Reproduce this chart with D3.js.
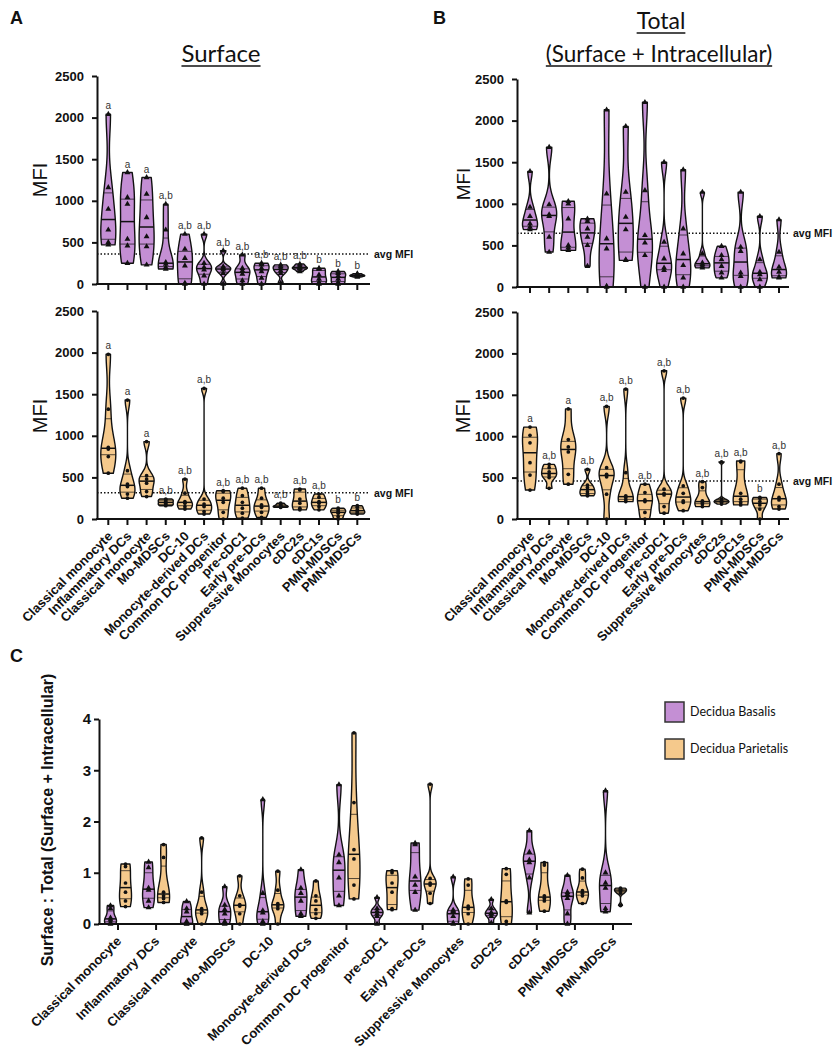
<!DOCTYPE html>
<html><head><meta charset="utf-8">
<script src="https://cdn.jsdelivr.net/npm/d3@7"></script>
<style>body{margin:0;background:#fff} svg{display:block}</style>
</head><body>
<svg id="chart" width="835" height="1050"></svg>
<script>
const categories = ["Classical monocyte","Inflammatory DCs","Classical monocyte","Mo-MDSCs","DC-10","Monocyte-derived DCs","Common DC progenitor","pre-cDC1","Early pre-DCs","Suppressive Monocytes","cDC2s","cDC1s","PMN-MDSCs","PMN-MDSCs"];
const seriesNames = ["Decidua Basalis","Decidua Parietalis"];
const mfiTicks = [0,500,1000,1500,2000,2500];
const ratioTicks = [0,1,2,3,4];

const surfaceBasalis = [
 [2040,1160,900,650,500,470],[1340,1040,960,540,460,250],[1280,1080,800,570,450,230],[960,650,260,240,200,180],
 [600,420,310,220,10,0],[600,250,200,170,100,0],[400,210,190,170,130,0],[350,190,160,120,40,0],
 [250,230,190,150,70,0],[230,210,190,160,130,10],[240,220,200,190,180,150],[190,180,110,60,20,0],
 [150,130,100,60,20,0],[125,115,105,100,95,85]];
const surfaceParietalis = [
 [1980,1320,860,840,750,550],[1430,580,420,390,300,250],[930,520,480,430,330,270],[240,230,210,190,170,160],
 [480,310,210,190,150,120],[1570,240,180,150,90,60],[340,330,250,200,80,0],[370,280,200,130,70,10],
 [370,250,170,140,80,20],[190,175,160,150,145,140],[360,350,240,190,130,110],[300,260,210,190,150,110],
 [130,110,90,70,30,0],[160,140,110,90,70,60]];
const totalBasalis = [
 [1390,960,850,760,720,690],[1680,990,870,850,600,420],[1030,1000,820,500,470,440],[820,790,700,600,500,250],
 [2130,1120,580,460,10,0],[1930,1140,840,690,330,320],[2220,1160,620,530,380,0],[1500,540,340,230,200,0],
 [1410,700,400,260,110,0],[1140,400,290,270,250,230],[490,380,330,250,170,110],[1140,480,430,170,130,0],
 [850,330,180,150,90,0],[810,420,240,180,120,110]];
const totalParietalis = [
 [1110,1010,920,680,530,350],[660,620,570,530,500,370],[1330,960,870,810,540,420],[600,410,380,330,300,280],
 [1360,620,540,510,300,0],[1570,560,280,260,230,210],[420,320,230,210,80,0],[1790,360,310,290,150,70],
 [1460,400,310,220,200,100],[450,380,220,200,180,150],[690,240,220,210,200,180],[700,690,310,240,200,170],
 [260,250,210,170,120,0],[790,420,260,230,150,120]];
const ratioBasalis = [
 [0.36,0.30,0.12,0.08,0.03,0.0],[1.21,1.10,0.70,0.66,0.45,0.32],[0.44,0.30,0.24,0.05,0.01,0.0],[0.73,0.37,0.28,0.20,0.05,0.0],
 [2.43,0.60,0.26,0.22,0.05,0.0],[1.06,0.70,0.60,0.45,0.20,0.15],[2.72,1.35,1.20,0.90,0.55,0.36],[0.52,0.30,0.25,0.20,0.15,0.0],
 [1.58,1.55,0.92,0.76,0.62,0.27],[0.92,0.27,0.25,0.15,0.02,0.0],[0.48,0.30,0.22,0.20,0.15,0.02],[1.82,1.40,1.25,1.20,0.90,0.22],
 [0.95,0.62,0.58,0.50,0.20,0.0],[2.60,1.00,0.80,0.70,0.30,0.24]];
const ratioParietalis = [
 [1.17,1.12,0.80,0.62,0.45,0.34],[1.55,1.30,0.62,0.55,0.50,0.42],[1.68,0.62,0.30,0.25,0.20,0.0],[0.94,0.55,0.38,0.35,0.20,0.0],
 [1.03,0.66,0.40,0.35,0.30,0.0],[0.84,0.55,0.45,0.28,0.20,0.11],[3.73,2.37,1.45,1.27,0.76,0.49],[1.04,1.00,0.80,0.62,0.30,0.28],
 [2.73,0.89,0.80,0.76,0.60,0.40],[0.88,0.76,0.35,0.30,0.20,0.0],[1.08,0.97,0.45,0.42,0.05,0.0],[1.20,1.15,0.55,0.50,0.45,0.25],
 [1.07,0.90,0.65,0.60,0.55,0.40],[0.70,0.68,0.66,0.63,0.60,0.36]];

const lettersSurfaceBasalis = ["a","a","a","a,b","a,b","a,b","a,b","a,b","a,b","a,b","a,b","b","b","b"];
const lettersSurfaceParietalis = ["a","a","a","a,b","a,b","a,b","a,b","a,b","a,b","a,b","a,b","a,b","b","b"];
const lettersTotalParietalis = ["a","a,b","a","a,b","a,b","a,b","a,b","a,b","a,b","a,b","a,b","a,b","b","a,b"];
const avgSurfaceBasalis = 360, avgSurfaceParietalis = 316, avgTotalBasalis = 645, avgTotalParietalis = 458;

const PURPLE = "#c48fd4", ORANGE = "#f5c98c", INK = "#111";
const svg = d3.select("#chart");
const AXF = "'Liberation Sans', Arial, sans-serif";
const TF = "Lato, 'Open Sans', sans-serif";

function violinShape(vals, n){
  n = n || 48;
  const s = vals.slice().sort(d3.ascending);
  const lo = s[0], hi = s[s.length-1];
  const sd = d3.deviation(s) || 1;
  const iqr = d3.quantile(s,0.75) - d3.quantile(s,0.25);
  let h = 0.9*Math.min(sd, iqr>0 ? iqr/1.34 : sd)*Math.pow(s.length,-0.2);
  if(!(h>0)) h = (hi-lo)/4 || 1;
  const dens = y => d3.mean(s, v => Math.exp(-0.5*((y-v)/h)**2));
  const pts = d3.range(n+1).map(i => { const y = lo + (hi-lo)*i/n; return [y, dens(y)]; });
  const mx = d3.max(pts, p => p[1]);
  return {pts: pts.map(p => [p[0], p[1]/mx]), dens: y => dens(y)/mx, s};
}

function drawViolin(g, vals, cx, y, hw, fill, marker){
  const v = violinShape(vals);
  const area = d3.area().curve(d3.curveCatmullRom)
    .y(p => y(p[0])).x0(p => cx - p[1]*hw).x1(p => cx + p[1]*hw);
  g.append("path").attr("d", area(v.pts)).attr("fill", fill)
    .attr("stroke", INK).attr("stroke-width", 1.4).attr("stroke-linejoin","round");
  [[0.25,0.7],[0.5,1.5],[0.75,0.7]].forEach(([q,w]) => {
    const qv = d3.quantile(v.s, q), wd = v.dens(qv)*hw;
    g.append("line").attr("x1", cx-wd).attr("x2", cx+wd).attr("y1", y(qv)).attr("y2", y(qv))
      .attr("stroke", INK).attr("stroke-width", w);
  });
  const sym = d3.symbol().type(marker === "tri" ? d3.symbolTriangle : d3.symbolCircle).size(marker === "tri" ? 15 : 11);
  v.s.forEach(val => {
    g.append("path").attr("d", sym()).attr("transform", `translate(${cx},${y(val)})`).attr("fill", INK);
  });
}

function yAxis(g, y, ax, ticks, fs, pad){
  const a = g.append("g").attr("transform", `translate(${ax},0)`)
    .call(d3.axisLeft(y).tickValues(ticks).tickSize(5).tickSizeOuter(0).tickPadding(pad).tickFormat(d3.format("d")));
  a.select(".domain").attr("stroke", INK).attr("stroke-width", 2);
  a.selectAll(".tick line").attr("stroke", INK).attr("stroke-width", 2);
  a.selectAll("text").attr("font-family", AXF).attr("font-weight", "bold").attr("font-size", fs).attr("fill", INK);
}

function xAxis(g, x, ax, xEnd, y0, withLabels, lx, ly){
  g.append("line").attr("x1", ax-1).attr("x2", xEnd).attr("y1", y0).attr("y2", y0).attr("stroke", INK).attr("stroke-width", 2);
  categories.forEach((c,i) => {
    g.append("line").attr("x1", x(i)).attr("x2", x(i)).attr("y1", y0).attr("y2", y0+6).attr("stroke", INK).attr("stroke-width", 2);
    if(withLabels){
      g.append("text").attr("transform", `translate(${x(i)+lx},${y0+ly}) rotate(-45)`)
        .attr("text-anchor","end").attr("font-family", AXF).attr("font-weight","bold").attr("font-size", 13)
        .attr("fill", INK).text(c);
    }
  });
}

function avgLine(g, y, ax, xEnd, val){
  g.append("line").attr("x1", ax).attr("x2", xEnd).attr("y1", y(val)).attr("y2", y(val))
    .attr("stroke", INK).attr("stroke-width", 1.5).attr("stroke-dasharray", "1.5,2");
  g.append("text").attr("x", xEnd+4).attr("y", y(val)+4).attr("font-family", AXF).attr("font-weight","bold")
    .attr("font-size", 10.5).attr("fill", INK).text("avg MFI");
}

function mfiPanel(opt){
  const g = svg.append("g");
  const x = d3.scalePoint().domain(d3.range(categories.length)).range(opt.xr);
  const y = d3.scaleLinear().domain([0,2500]).range(opt.yr);
  avgLine(g, y, opt.ax, opt.xEnd, opt.avg);
  opt.data.forEach((vals,i) => drawViolin(g, vals, x(i), y, 7.5, opt.fill, opt.marker));
  if(opt.letters){
    opt.letters.forEach((t,i) => {
      g.append("text").attr("x", x(i)).attr("y", y(d3.max(opt.data[i])) - 5).attr("text-anchor","middle")
        .attr("font-family", AXF).attr("font-size", 10).attr("fill", "#333").text(t);
    });
  }
  yAxis(g, y, opt.ax, mfiTicks, 13, 8);
  xAxis(g, x, opt.ax, opt.xEnd, y(0), opt.labels, 5, 18);
  g.append("text").attr("transform", `translate(${opt.mfiX},${opt.mfiY}) rotate(-90)`).attr("text-anchor","middle")
    .attr("font-family", AXF).attr("font-size", opt.mfiSize).attr("fill", INK).text("MFI");
}

mfiPanel({xr:[108.3,357.3], yr:[284,76], ax:97, xEnd:370, avg:avgSurfaceBasalis, data:surfaceBasalis, fill:PURPLE, marker:"tri", letters:lettersSurfaceBasalis, labels:false, mfiX:47, mfiY:180, mfiSize:20});
mfiPanel({xr:[108.3,357.3], yr:[519,311], ax:97, xEnd:370, avg:avgSurfaceParietalis, data:surfaceParietalis, fill:ORANGE, marker:"dot", letters:lettersSurfaceParietalis, labels:true, mfiX:47, mfiY:416, mfiSize:20});
mfiPanel({xr:[530,779], yr:[287,79], ax:517, xEnd:789, avg:avgTotalBasalis, data:totalBasalis, fill:PURPLE, marker:"tri", letters:null, labels:false, mfiX:470, mfiY:184, mfiSize:19});
mfiPanel({xr:[530,779], yr:[519,312], ax:517, xEnd:789, avg:avgTotalParietalis, data:totalParietalis, fill:ORANGE, marker:"dot", letters:lettersTotalParietalis, labels:true, mfiX:470, mfiY:416, mfiSize:20});

// Panel C
(function(){
  const g = svg.append("g");
  const x = d3.scalePoint().domain(d3.range(categories.length)).range([118,613]);
  const y = d3.scaleLinear().domain([0,4]).range([924,719]);
  ratioBasalis.forEach((vals,i) => drawViolin(g, vals, x(i)-7.5, y, 6, PURPLE, "tri"));
  ratioParietalis.forEach((vals,i) => drawViolin(g, vals, x(i)+7.5, y, 6, ORANGE, "dot"));
  yAxis(g, y, 99, ratioTicks, 15, 3);
  xAxis(g, x, 99, 632, y(0), true, 4, 18);
  g.append("text").attr("transform", "translate(53,820) rotate(-90)").attr("text-anchor","middle")
    .attr("font-family", AXF).attr("font-weight","bold").attr("font-size", 16).attr("fill", INK)
    .text("Surface : Total (Surface + Intracellular)");
  // legend
  [PURPLE, ORANGE].forEach((c,i) => {
    g.append("rect").attr("x", 665).attr("y", 702 + i*37).attr("width", 19).attr("height", 20)
      .attr("fill", c).attr("stroke", "#333").attr("stroke-width", 1.5);
    g.append("text").attr("x", 690).attr("y", 716 + i*37).attr("font-family", TF).attr("font-size", 12.5)
      .attr("fill", INK).text(seriesNames[i]);
  });
})();

// titles
function title(txt, cx, base, size){
  const t = svg.append("text").attr("x", cx).attr("y", base).attr("text-anchor","middle")
    .attr("font-family", TF).attr("font-size", size).attr("fill", INK).text(txt);
  const bb = t.node().getBBox();
  svg.append("line").attr("x1", bb.x).attr("x2", bb.x+bb.width).attr("y1", base+4).attr("y2", base+4)
    .attr("stroke", INK).attr("stroke-width", 1.5);
}
title("Surface", 221, 62, 24);
title("Total", 661, 29, 23);
title("(Surface + Intracellular)", 659, 62, 22.5);

[["A",10,24],["B",433,24],["C",10,662]].forEach(([t,x,y]) => {
  svg.append("text").attr("x", x).attr("y", y).attr("font-family", AXF).attr("font-weight","bold")
    .attr("font-size", 18).attr("fill", INK).text(t);
});
</script>
</body></html>
